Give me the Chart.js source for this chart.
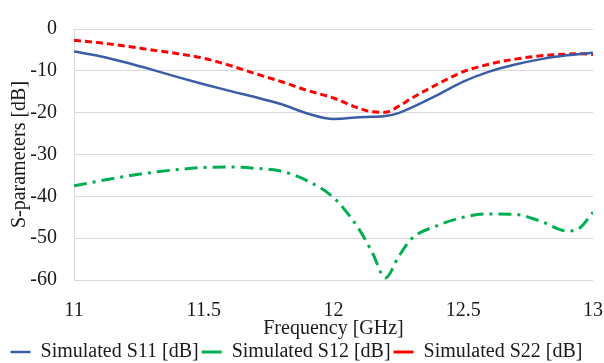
<!DOCTYPE html>
<html>
<head>
<meta charset="utf-8">
<script src="https://cdn.jsdelivr.net/npm/chart.js@4"></script>
<style>
  html, body { margin: 0; padding: 0; background: #fff; }
  #wrap { width: 604px; height: 363px; }
</style>
</head>
<body>
<div id="wrap"><canvas id="mychart" width="604" height="363"></canvas></div>
<script>
const Freq=[11,11.1,11.2,11.3,11.4,11.5,11.6,11.7,11.8,11.9,12,12.1,12.15,12.2,12.25,12.3,12.4,12.5,12.6,12.7,12.8,12.9,12.95,13]
const S11=[-5.4,-6.5,-8.0,-9.7,-11.5,-13.2,-14.8,-16.3,-18.0,-20.2,-21.5,-21.1,-21.0,-20.8,-20.1,-18.8,-15.8,-12.6,-10.2,-8.5,-7.2,-6.3,-6.0,-5.7]
const S12=[-37.5,-36.3,-35.2,-34.3,-33.6,-33.1,-33.0,-33.3,-34.0,-36.3,-40.3,-48.0,-53.5,-59.5,-54.5,-50.2,-47.0,-45.0,-44.2,-44.3,-46.0,-48.3,-47.5,-43.8]
const S22=[-2.7,-3.3,-4.1,-5.0,-5.9,-7.0,-8.7,-10.7,-12.6,-14.7,-16.5,-19.0,-19.8,-19.9,-18.5,-16.6,-13.2,-10.2,-8.4,-7.2,-6.4,-6.0,-5.9,-6.1]
const Labels=["Simulated S11 [dB]","Simulated S12 [dB]","Simulated S22 [dB]"]

const pts=(ys)=>Freq.map((f,i)=>({x:f,y:ys[i]}))
const font={family:"'Liberation Serif', 'Times New Roman', serif",size:20}

new Chart("mychart",{
    type:"line",
    data:{
        datasets:[{
                label:Labels[0],
                data:pts(S11),
                borderColor:"#3A5DA8",
                borderWidth:2.5,
                fill:false,
                cubicInterpolationMode:"monotone",
                pointRadius:0,
                pointStyle:"line",
            },
            {
                label:Labels[1],
                data:pts(S12),
                borderColor:"#00B050",
                borderWidth:3,
                borderDash:[13,6,3,6],
                fill:false,
                cubicInterpolationMode:"monotone",
                pointRadius:0,
                pointStyle:"line",
            },
            {
                label:Labels[2],
                data:pts(S22),
                borderColor:"#FF0000",
                borderWidth:3,
                borderDash:[7,4],
                fill:false,
                cubicInterpolationMode:"monotone",
                pointRadius:0,
                pointStyle:"line",
            },
        ],
    },
    options:{
        responsive:false,
        animation:false,
        // negative bottom padding pulls the legend down to the canvas edge
        layout:{padding:{left:0,right:11,top:14,bottom:-9}},
        plugins:{
            legend:{
                display:true,
                position:"bottom",
                labels:{
                    usePointStyle:true,
                    pointStyleWidth:20,
                    boxWidth:20,
                    boxHeight:10,
                    padding:3,
                    color:"#1a1a1a",
                    font:font,
                },
            },
            tooltip:{enabled:false},
        },
        scales:{
            x:{
                type:"linear",
                min:11,
                max:13,
                ticks:{stepSize:0.5,padding:0,color:"#1a1a1a",font:font,maxRotation:0,callback:(v)=>String(v)},
                grid:{display:true,color:"transparent",drawOnChartArea:false,drawTicks:true,tickLength:19},
                border:{display:false},
                title:{display:true,text:"Frequency [GHz]",color:"#1a1a1a",font:font,padding:{top:0,bottom:-2}},
                afterFit:(s)=>{s.height=59},
            },
            y:{
                min:-60,
                max:0,
                ticks:{stepSize:10,padding:17,color:"#1a1a1a",font:font},
                grid:{color:"#D9D9D9",lineWidth:1,drawTicks:false},
                border:{display:true,color:"#D9D9D9"},
                title:{display:true,text:"S-parameters [dB]",color:"#1a1a1a",font:font,padding:{top:8,bottom:3}},
                afterFit:(s)=>{s.width=74},
            },
        },
    },
});
</script>
</body>
</html>
